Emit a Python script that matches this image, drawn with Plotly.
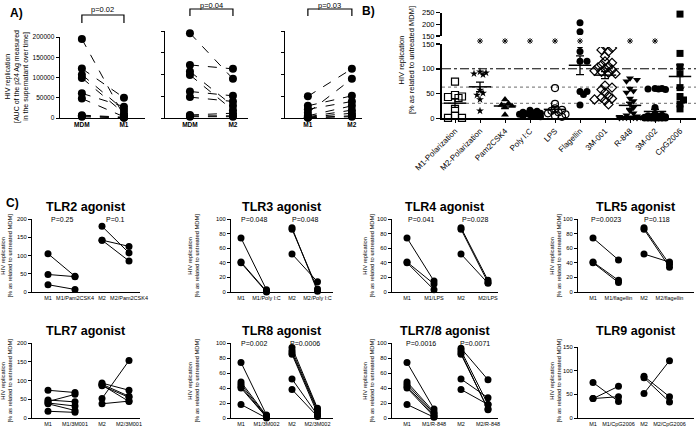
import numpy as np
import plotly.graph_objects as go

# ======================= DATA =======================
# Panel A : AUC of p24 Ag
a1_cats = ["MDM", "M1"]
a1_before = [195000, 122000, 107000, 99000, 61000, 48000, 7000, 5000, 3000]
a1_after = [5000, 50000, 20000, 12000, 28000, 3000, 2000, 1000, 500]
a2_cats = ["MDM", "M2"]
a2_before = [195000, 122000, 107000, 99000, 61000, 48000, 7000, 5000, 3000]
a2_after = [90000, 113000, 28000, 18000, 51000, 38000, 11000, 5000, 3000]
a3_cats = ["M1", "M2"]
a3_before = [50000, 12000, 28000, 20000, 5000, 3000, 2000, 1000, 500]
a3_after = [113000, 90000, 51000, 38000, 28000, 18000, 11000, 5000, 3000]
a_pvalues = ["p=0.02", "p=0.04", "p=0.03"]
a_yticks = [0, 50000, 100000, 150000, 200000]

# Panel B : % of untreated MDM
b_categories = ["M1-Polarization", "M2-Polarization", "Pam2CSK4", "Poly I:C", "LPS",
                "Flagellin", "3M-001", "R-848", "3M-002", "CpG2006"]
b_m1_polarization = [74, 47, 44, 43, 41, 19, 5, 1, 1]
b_m2_polarization = [94, 92, 90, 88, 57, 51, 47, 38, 15]
b_pam2csk4 = [38, 30, 27, 25, 22, 7]
b_poly_ic = [16, 14, 12, 11, 10, 9, 8, 7, 6, 5, 4, 3]
b_lps = [61, 29, 20, 17, 15, 12, 10, 8, 5, 3]
b_flagellin = [207, 168, 148, 135, 115, 115, 54, 54, 48, 27]
b_3m001 = [146, 142, 138, 135, 125, 115, 112, 108, 105, 103, 100, 98, 96, 94, 92, 90,
           66, 62, 58, 52, 45, 42, 40, 38, 36, 28]
b_r848 = [81, 78, 75, 60, 55, 52, 40, 35, 30, 22, 15, 10, 6, 4, 3, 2, 2, 1, 1, 1, 0.5, 0.5]
b_3m002 = [60, 60, 59, 59, 58, 22, 8, 6, 5, 4, 3, 3, 2, 2, 1, 1, 1, 1,
           0.5, 0.5, 0.5, 0.5, 0.5, 0.5, 0.5, 0.5]
b_cpg2006 = [244, 131, 104, 90, 62, 44, 37, 29, 19]
b_significant = ["M2-Polarization", "Pam2CSK4", "Poly I:C", "LPS", "Flagellin", "R-848", "3M-002"]
b_reference_lines = [100, 63, 30]
b_lower_ticks = [0, 50, 100, 150]
b_upper_ticks = [150, 200, 250]

# Panel C : paired experiments
tlr2_cats = ["M1", "M1/Pam2CSK4", "M2", "M2/Pam2CSK4"]
tlr2_m1 = [105, 48, 20]
tlr2_m1_trt = [43, 42, 7]
tlr2_m2 = [180, 142, 142]
tlr2_m2_trt = [107, 125, 85]
tlr2_p = ["P=0.25", "P=0.1"]

tlr3_cats = ["M1", "M1/Poly I:C", "M2", "M2/Poly I:C"]
tlr3_m1 = [74, 41, 40]
tlr3_m1_trt = [3, 1, 0]
tlr3_m2 = [88, 86, 52]
tlr3_m2_trt = [1, 4, 14]
tlr3_p = ["P=0.048", "P=0.048"]

tlr4_cats = ["M1", "M1/LPS", "M2", "M2/LPS"]
tlr4_m1 = [74, 41, 40]
tlr4_m1_trt = [15, 11, 3]
tlr4_m2 = [88, 86, 52]
tlr4_m2_trt = [16, 13, 12]
tlr4_p = ["P=0.041", "P=0.028"]

tlr5_cats = ["M1", "M1/flagellin", "M2", "M2/flagellin"]
tlr5_m1 = [74, 41, 40]
tlr5_m1_trt = [44, 16, 13]
tlr5_m2 = [88, 86, 52]
tlr5_m2_trt = [38, 34, 41]
tlr5_p = ["P=0.0023", "P=0.118"]

tlr7_cats = ["M1", "M1/3M001", "M2", "M2/3M001"]
tlr7_m1 = [74, 48, 44, 40, 38, 18]
tlr7_m1_trt = [68, 43, 63, 32, 20, 15]
tlr7_m2 = [93, 90, 86, 52, 38, 88]
tlr7_m2_trt = [74, 58, 55, 153, 45, 44]
tlr7_p = None

tlr8_cats = ["M1", "M1/3M002", "M2", "M2/3M002"]
tlr8_m1 = [74, 48, 45, 42, 40, 18]
tlr8_m1_trt = [4, 3, 2, 1, 1, 0]
tlr8_m2 = [94, 90, 87, 85, 52, 38]
tlr8_m2_trt = [13, 11, 9, 6, 4, 2]
tlr8_p = ["P=0.002", "P=0.0006"]

tlr78_cats = ["M1", "M1/R-848", "M2", "M2/R-848"]
tlr78_m1 = [74, 48, 45, 42, 40, 18]
tlr78_m1_trt = [12, 8, 6, 4, 2, 1]
tlr78_m2 = [93, 90, 87, 85, 52, 38]
tlr78_m2_trt = [51, 18, 11, 12, 27, 18]
tlr78_p = ["P=0.0016", "P=0.0071"]

tlr9_cats = ["M1", "M1/CpG2006", "M2", "M2/CpG2006"]
tlr9_m1 = [75, 41, 41]
tlr9_m1_trt = [35, 67, 45]
tlr9_m2 = [88, 85, 52]
tlr9_m2_trt = [45, 34, 121]
tlr9_p = None

# ======================= FIGURE =======================
W, H = 696, 429
FONT = "Arial, Liberation Sans, Helvetica, sans-serif"


def fx(p):
    return p / W


def fy(p):
    return 1 - p / H


fig = go.Figure()
layout = {}
annotations = []
shapes = []


def add_axes(n, xdom, ydom, xrange, yrange, xtickvals, xticktext, ytickvals,
             show_ylabels=True, xfont=6.5, yfont=6.5, lw=1.4, xangle=0, xticks=""):
    layout[f"xaxis{n}"] = dict(
        domain=[fx(xdom[0]), fx(xdom[1])], range=xrange, anchor=f"y{n}",
        showline=True, linecolor="black", linewidth=lw, showgrid=False, zeroline=False,
        tickvals=xtickvals, ticktext=xticktext, ticks=xticks, ticklen=3,
        tickcolor="black", tickangle=xangle, automargin=False,
        tickfont=dict(family=FONT, size=xfont, color="black"), fixedrange=True)
    layout[f"yaxis{n}"] = dict(
        domain=[fy(ydom[1]), fy(ydom[0])], range=yrange, anchor=f"x{n}",
        showline=True, linecolor="black", linewidth=lw, showgrid=False, zeroline=False,
        tickvals=ytickvals, ticks="outside", ticklen=3, tickcolor="black", tickwidth=1,
        showticklabels=show_ylabels, tickformat="d", automargin=False,
        tickfont=dict(family=FONT, size=yfont, color="black"), fixedrange=True)


def paired(n, before, after, x0, x1, dash="solid", msize=7):
    for b, a in zip(before, after):
        fig.add_trace(go.Scatter(
            x=[x0, x1], y=[b, a], xaxis=f"x{n}", yaxis=f"y{n}", mode="lines+markers",
            line=dict(color="black", width=1, dash=dash),
            marker=dict(color="black", size=msize), cliponaxis=False,
            hoverinfo="skip"))


def text(x, y, s, size, bold=False, angle=0, xref="paper", yref="paper", xanchor="center"):
    annotations.append(dict(
        x=x, y=y, xref=xref, yref=yref, text=f"<b>{s}</b>" if bold else s,
        showarrow=False, textangle=angle, xanchor=xanchor, yanchor="middle",
        font=dict(family=FONT, size=size, color="black")))


# ---------------- Panel A ----------------
a_specs = [
    (1, (60, 145), (37, 118), [-0.52, 1.5], a1_cats, a1_before, a1_after, True, (15, 23, 10)),
    (2, (165, 248), (31, 118), [-0.58, 1.35], a2_cats, a2_before, a2_after, False, (9, 16, 5)),
    (3, (285, 362), (31, 118), [-0.52, 1.23], a3_cats, a3_before, a3_after, False, (9, 16, 5)),
]
for (n, xd, yd, xr, cats, bef, aft, lab, br), pv in zip(a_specs, a_pvalues):
    add_axes(n, xd, yd, xr, [0, 200000], [0, 1], [f"<b>{c}</b>" for c in cats], a_yticks,
             show_ylabels=lab, xfont=6.5, yfont=6.5, lw=1.4)
    paired(n, bef, aft, 0, 1, dash="dash", msize=8)
    top, bot, ty = br
    shapes.append(dict(type="path", xref=f"x{n}", yref="paper",
                       path=f"M 0,{fy(bot)} L 0,{fy(top)} L 1,{fy(top)} L 1,{fy(bot)}",
                       line=dict(color="black", width=1.2)))
    text(0.5, fy(ty), pv, 7.5, xref=f"x{n}")

text(fx(17), fy(77), "HIV replication<br>[AUC of the p24 Ag measured<br>in the supernatant over time]",
     7, angle=-90)
text(fx(8), fy(13), "A)", 12, bold=True, xanchor="left")

# ---------------- Panel B ----------------
NB = 4
NBU = 5
NBS = 20
b_xdom = (442, 696)
b_first, b_step = 455, 25.0
b_xrange = [(b_xdom[0] - b_first) / b_step, (b_xdom[1] - b_first) / b_step]
layout[f"xaxis{NB}"] = dict(
    domain=[fx(b_xdom[0]), fx(b_xdom[1])], range=b_xrange, anchor=f"y{NB}",
    showline=True, linecolor="black", linewidth=2, showgrid=False, zeroline=False,
    tickvals=list(range(len(b_categories))), ticktext=b_categories, ticks="outside",
    ticklen=3, tickcolor="black", tickangle=-45, automargin=False,
    tickfont=dict(family=FONT, size=8, color="black"), fixedrange=True)
layout[f"yaxis{NB}"] = dict(
    domain=[fy(118.3), fy(44)], range=[0, 150], anchor=f"x{NB}",
    showline=True, linecolor="black", linewidth=2, showgrid=False, zeroline=False,
    tickvals=b_lower_ticks, ticks="outside", ticklen=4, tickcolor="black", tickwidth=1.5,
    automargin=False,
    tickfont=dict(family=FONT, size=7.5, color="black"), fixedrange=True)
layout[f"yaxis{NBU}"] = dict(
    domain=[fy(36), fy(12.7)], range=[150, 250], anchor=f"x{NB}",
    showline=True, linecolor="black", linewidth=2, showgrid=False, zeroline=False,
    tickvals=b_upper_ticks, ticks="outside", ticklen=4, tickcolor="black", tickwidth=1.5,
    automargin=False,
    tickfont=dict(family=FONT, size=7.5, color="black"), fixedrange=True)
# invisible strip axis holding the significance asterisks
layout[f"yaxis{NBS}"] = dict(
    domain=[fy(47), fy(35)], range=[0, 1], anchor=f"x{NB}", visible=False, fixedrange=True)

b_series = [b_m1_polarization, b_m2_polarization, b_pam2csk4, b_poly_ic, b_lps,
            b_flagellin, b_3m001, b_r848, b_3m002, b_cpg2006]
b_styles = [
    dict(symbol="square-open", size=7), dict(symbol="star", size=6),
    dict(symbol="triangle-up", size=7), dict(symbol="circle", size=7),
    dict(symbol="circle-open", size=7), dict(symbol="circle", size=7),
    dict(symbol="diamond-open", size=7), dict(symbol="triangle-down", size=7),
    dict(symbol="circle", size=7), dict(symbol="square", size=7),
]
LOW_PX = 74.3 / 150
UP_PX = 23.3 / 100


def ypix(v):
    return v * LOW_PX if v <= 150 else 150 * LOW_PX + 8 + (v - 150) * UP_PX


def swarm(vals, mpx, kmax=3):
    """Deterministic beeswarm: horizontal offsets so markers overlap less."""
    order = sorted(range(len(vals)), key=lambda i: -vals[i])
    placed, res = [], [0.0] * len(vals)
    seq = [0]
    for k in range(1, kmax + 1):
        seq += [k, -k]
    step = mpx * 0.5
    need = (mpx * 0.6) ** 2
    for i in order:
        yp = ypix(vals[i])
        best, best_d = 0.0, -1.0
        for k in seq:
            xo = k * step
            d = min([(xo - a) ** 2 + (yp - b) ** 2 for a, b in placed] or [1e9])
            if d >= need:
                best = xo
                break
            if d > best_d:
                best, best_d = xo, d
        placed.append((best, yp))
        res[i] = best / b_step
    return res


for ci, (vals, st) in enumerate(zip(b_series, b_styles)):
    offs = swarm(vals, st["size"])
    xs = [ci + o for o in offs]
    open_sym = st["symbol"].endswith("open")
    mk = dict(symbol=st["symbol"], size=st["size"], color="black",
              line=dict(color="black", width=1.2 if open_sym else 0))
    lo = [(x, v) for x, v in zip(xs, vals) if v <= 150]
    up = [(x, v) for x, v in zip(xs, vals) if v > 150]
    if lo:
        fig.add_trace(go.Scatter(x=[p[0] for p in lo], y=[p[1] for p in lo], mode="markers",
                                 xaxis=f"x{NB}", yaxis=f"y{NB}", marker=mk, cliponaxis=False,
                                 hoverinfo="skip"))
    if up:
        fig.add_trace(go.Scatter(x=[p[0] for p in up], y=[p[1] for p in up], mode="markers",
                                 xaxis=f"x{NB}", yaxis=f"y{NBU}", marker=mk, cliponaxis=False,
                                 hoverinfo="skip"))
    arr = np.array(vals, dtype=float)
    mean = arr.mean()
    sem = arr.std(ddof=1) / np.sqrt(len(arr))
    fig.add_trace(go.Scatter(
        x=[ci], y=[mean], mode="markers", xaxis=f"x{NB}", yaxis=f"y{NB}",
        marker=dict(symbol="line-ew", size=16, color="black", line=dict(color="black", width=1.5)),
        error_y=dict(type="data", array=[sem], visible=True, color="black", thickness=1.3, width=4),
        cliponaxis=False, hoverinfo="skip"))

ref_styles = [dict(color="black", width=1, dash="dashdot"),
              dict(color="#888888", width=1.3, dash="dot"),
              dict(color="#888888", width=1.3, dash="dot")]
for v, ls in zip(b_reference_lines, ref_styles):
    shapes.append(dict(type="line", xref="paper", yref=f"y{NB}", x0=fx(b_xdom[0]), x1=fx(b_xdom[1]),
                       y0=v, y1=v, line=ls, layer="below"))

# significance asterisks
sig_x = [b_categories.index(c) for c in b_significant]
fig.add_trace(go.Scatter(
    x=sig_x, y=[0.5] * len(sig_x), xaxis=f"x{NB}", yaxis=f"y{NBS}", mode="markers",
    marker=dict(symbol="asterisk-open", size=5, color="black", line=dict(color="black", width=0.9)),
    cliponaxis=False, hoverinfo="skip"))

text(fx(406), fy(60), "HIV replication<br>[% as related to untreated MDM]", 7.5, angle=-90)
text(fx(360), fy(11), "B)", 12, bold=True, xanchor="left")

# ---------------- Panel C ----------------
cols = [(32, 140, 48, 27.0), (231, 333, 241, 25.5), (392, 498, 407, 27.0), (578, 694, 593, 25.5)]
col_label_x = [6, 193, 368, 555]
rows = [(219, 292), (343, 418)]
c_panels = [
    ("TLR2 agonist", tlr2_cats, tlr2_m1, tlr2_m1_trt, tlr2_m2, tlr2_m2_trt, tlr2_p, [0, 200], [0, 50, 100, 150, 200]),
    ("TLR3 agonist", tlr3_cats, tlr3_m1, tlr3_m1_trt, tlr3_m2, tlr3_m2_trt, tlr3_p, [0, 100], [0, 20, 40, 60, 80, 100]),
    ("TLR4 agonist", tlr4_cats, tlr4_m1, tlr4_m1_trt, tlr4_m2, tlr4_m2_trt, tlr4_p, [0, 100], [0, 20, 40, 60, 80, 100]),
    ("TLR5 agonist", tlr5_cats, tlr5_m1, tlr5_m1_trt, tlr5_m2, tlr5_m2_trt, tlr5_p, [0, 100], [0, 20, 40, 60, 80, 100]),
    ("TLR7 agonist", tlr7_cats, tlr7_m1, tlr7_m1_trt, tlr7_m2, tlr7_m2_trt, tlr7_p, [0, 200], [0, 50, 100, 150, 200]),
    ("TLR8 agonist", tlr8_cats, tlr8_m1, tlr8_m1_trt, tlr8_m2, tlr8_m2_trt, tlr8_p, [0, 100], [0, 20, 40, 60, 80, 100]),
    ("TLR7/8 agonist", tlr78_cats, tlr78_m1, tlr78_m1_trt, tlr78_m2, tlr78_m2_trt, tlr78_p, [0, 100], [0, 20, 40, 60, 80, 100]),
    ("TLR9 agonist", tlr9_cats, tlr9_m1, tlr9_m1_trt, tlr9_m2, tlr9_m2_trt, tlr9_p, [0, 150], [0, 50, 100, 150]),
]
for k, (title, cats, m1, m1t, m2, m2t, pv, yr, yt) in enumerate(c_panels):
    n = 6 + k
    r, c = divmod(k, 4)
    ax0, ax1, first, sp = cols[c]
    top, bot = rows[r]
    if title == "TLR9 agonist":
        top = 347
    add_axes(n, (ax0, ax1), (top, bot), [(ax0 - first) / sp, (ax1 - first) / sp], yr,
             [0, 1, 2, 3], cats, yt, xfont=5.5, yfont=5.8, lw=1.2)
    paired(n, m1, m1t, 0, 1)
    paired(n, m2, m2t, 2, 3)
    text(fx((ax0 + ax1) / 2), fy(rows[r][0] - 12), title, 12.5, bold=True)
    if pv:
        text(0.5, fy(rows[r][0]), pv[0], 7, xref=f"x{n}")
        text(2.5, fy(rows[r][0]), pv[1], 7, xref=f"x{n}")
    text(fx(col_label_x[c]), fy((rows[r][0] + rows[r][1]) / 2),
         "HIV replication<br>[% as related to untreated MDM]", 5.8, angle=-90)

text(fx(4), fy(203), "C)", 12, bold=True, xanchor="left")

layout.update(dict(
    template="none",
    width=W, height=H, margin=dict(l=0, r=0, t=0, b=0, pad=0), autosize=False,
    paper_bgcolor="white", plot_bgcolor="white", showlegend=False,
    annotations=annotations, shapes=shapes, font=dict(family=FONT, color="black")))
fig.update_layout(**layout)
fig.write_html("out.html", config={"displayModeBar": False, "staticPlot": True},
               post_script="document.body.style.margin='0';document.body.style.padding='0';")
